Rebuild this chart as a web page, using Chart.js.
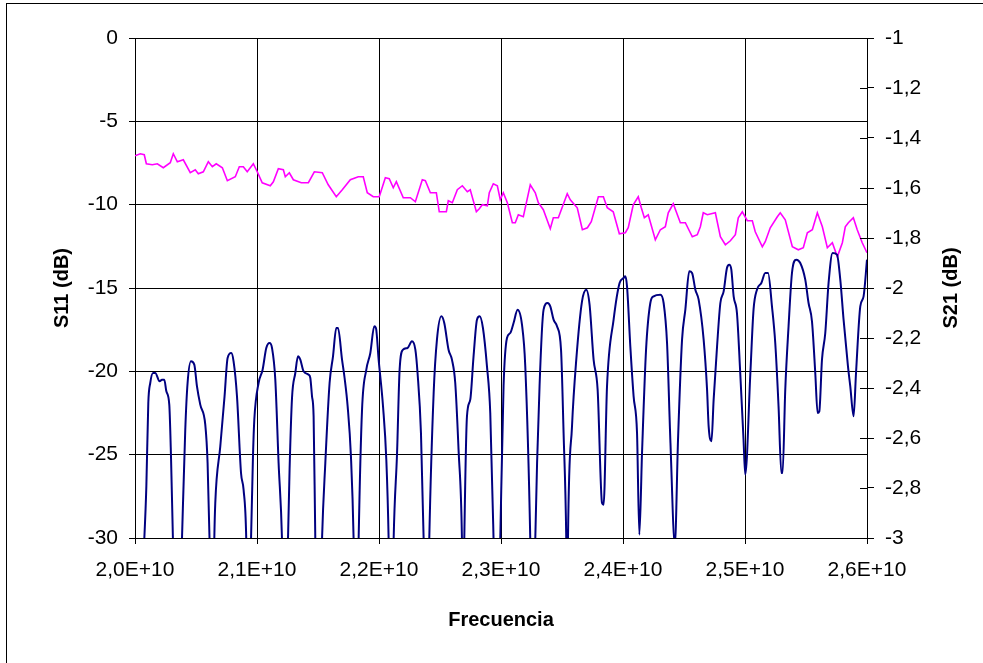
<!DOCTYPE html>
<html>
<head>
<meta charset="utf-8">
<script src="https://cdn.jsdelivr.net/npm/chart.js@4.4.1/dist/chart.umd.min.js"></script>
<style>
  html, body { margin: 0; padding: 0; background: #fff; }
  #wrap { width: 983px; height: 663px; }
</style>
</head>
<body>
<div id="wrap"><canvas id="chart" width="983" height="663"></canvas></div>
<script>
// frequencies in GHz
const s11Freq = [
  20.000, 20.076, 20.093, 20.109, 20.125, 20.148, 20.166, 20.202, 20.221, 20.240, 20.257, 20.281, 20.295, 20.311, 20.347,
  20.385, 20.412, 20.431, 20.459, 20.486, 20.508, 20.535, 20.576, 20.595, 20.611, 20.631,
  20.650, 20.658, 20.699, 20.734, 20.759, 20.789, 20.808, 20.836, 20.869, 20.890, 20.912, 20.931,
  20.951, 20.967, 20.978, 21.013, 21.046, 21.076, 21.103, 21.123, 21.150, 21.177, 21.205, 21.230,
  21.254, 21.267, 21.287, 21.314, 21.336, 21.355, 21.382, 21.423, 21.437, 21.451, 21.464, 21.478, 21.505,
  21.533, 21.560, 21.595, 21.623, 21.650, 21.664, 21.697, 21.718, 21.743, 21.770, 21.792, 21.812,
  21.833, 21.861, 21.896, 21.929, 21.961, 21.975, 21.997, 22.033, 22.060, 22.079, 22.099,
  22.120, 22.148, 22.169, 22.197, 22.234, 22.270, 22.298, 22.316, 22.344, 22.366, 22.389,
  22.412, 22.448, 22.475, 22.511, 22.535, 22.570, 22.598, 22.625, 22.652, 22.680, 22.689,
  22.699, 22.721, 22.748, 22.775, 22.803, 22.825, 22.852, 22.885, 22.912, 22.939, 22.967,
  22.994, 23.021, 23.049, 23.076, 23.103, 23.136, 23.172, 23.199, 23.240, 23.261,
  23.281, 23.316, 23.349, 23.382, 23.404, 23.431, 23.459, 23.492, 23.513, 23.535, 23.543,
  23.549, 23.582, 23.617, 23.664, 23.699, 23.726, 23.759, 23.792, 23.828, 23.841,
  23.869, 23.923, 23.972, 24.005, 24.019, 24.033, 24.060, 24.087, 24.115, 24.134,
  24.156, 24.189, 24.224, 24.251, 24.306, 24.333, 24.361, 24.389, 24.425,
  24.451, 24.484, 24.511, 24.543, 24.566, 24.593, 24.620, 24.661, 24.689, 24.702, 24.725,
  24.743, 24.771, 24.798, 24.825, 24.852, 24.871, 24.888, 24.907, 24.934, 24.961, 24.988, 25.002,
  25.044, 25.070, 25.098, 25.134, 25.166, 25.189, 25.221, 25.248, 25.275, 25.298, 25.308,
  25.330, 25.357, 25.385, 25.420, 25.453, 25.494, 25.521, 25.549, 25.576, 25.595, 25.609,
  25.631, 25.658, 25.685, 25.718, 25.754, 25.781, 25.808, 25.844, 25.863, 25.890,
  25.910, 25.945, 25.972, 26.000
];
// S11 in dB (values below -30 fall off the plot)
const s11Db = [
  -40, -30.1, -26.9, -21.9, -20.7, -20.1, -20.1, -20.6, -20.5, -20.5, -21.2, -22.0, -25.1, -30.1, -40,
  -30.1, -23.5, -20.7, -19.4, -19.6, -20.9, -22.0, -23.2, -25.5, -30.1, -40,
  -30.1, -27.9, -24.5, -21.5, -19.2, -18.9, -19.4, -21.5, -26.1, -27.1, -30.1, -40,
  -30.1, -25.1, -22.9, -20.7, -19.9, -18.6, -18.3, -18.6, -20.5, -25.5, -30.1, -40,
  -30.1, -25.9, -21.6, -20.1, -19.1, -19.3, -20.0, -20.2, -20.4, -21.5, -22.7, -30.1, -40,
  -30.1, -25.5, -20.7, -19.1, -17.4, -17.4, -19.3, -20.4, -22.1, -25.1, -30.1, -40,
  -30.1, -22.3, -19.9, -18.9, -17.3, -17.4, -19.3, -22.1, -25.3, -30.1, -40,
  -30.1, -24.9, -19.9, -18.7, -18.6, -18.2, -18.7, -20.1, -23.7, -30.1, -40,
  -30.1, -21.3, -18.1, -16.7, -17.1, -18.7, -19.3, -20.7, -24.7, -30.1, -36,
  -30.1, -22.7, -21.7, -19.1, -16.9, -16.7, -17.4, -19.7, -22.5, -30.1, -40,
  -30.1, -20.9, -18.0, -17.7, -17.1, -16.3, -17.2, -19.7, -30.1, -40,
  -30.1, -20.9, -16.3, -15.9, -16.1, -16.9, -17.3, -18.7, -23.7, -30.1, -36,
  -30.1, -23.3, -19.3, -15.8, -15.1, -16.0, -19.3, -21.1, -27.9, -28.0,
  -20.9, -16.9, -14.7, -14.4, -14.3, -14.9, -18.5, -21.5, -23.7, -29.8,
  -24.9, -18.7, -15.9, -15.5, -15.4, -15.9, -18.3, -24.3, -30.4,
  -24.1, -18.1, -16.3, -14.0, -14.1, -15.1, -15.7, -18.1, -21.1, -23.3, -24.2,
  -21.7, -18.5, -15.9, -15.2, -13.8, -13.6, -13.9, -15.5, -16.5, -20.1, -24.1, -26.2,
  -20.1, -16.3, -15.1, -14.7, -14.1, -14.1, -16.1, -18.3, -22.1, -26.1, -26.1,
  -21.1, -17.3, -14.1, -13.3, -13.5, -14.5, -15.9, -17.0, -20.1, -22.5, -22.4,
  -19.3, -17.7, -14.7, -12.9, -13.0, -14.5, -16.9, -19.7, -20.9, -22.7,
  -20.1, -16.1, -15.5, -13.3
];

const s21Freq = [
  20.000, 20.043, 20.076, 20.093, 20.142, 20.183, 20.232, 20.289, 20.314, 20.347,
  20.396, 20.453, 20.494, 20.519, 20.560, 20.601, 20.634, 20.666, 20.716, 20.757,
  20.822, 20.855, 20.888, 20.920, 20.970, 21.002, 21.043, 21.109, 21.134, 21.175,
  21.216, 21.232, 21.265, 21.298, 21.363, 21.421, 21.470, 21.535, 21.584, 21.650,
  21.699, 21.765, 21.830, 21.871, 21.904, 21.953, 22.002, 22.052, 22.084, 22.117,
  22.142, 22.199, 22.257, 22.298, 22.355, 22.380, 22.421, 22.470, 22.494, 22.552,
  22.568, 22.601, 22.642, 22.683, 22.724, 22.748, 22.798, 22.822, 22.847, 22.888,
  22.904, 22.937, 22.970, 22.994, 23.019, 23.052, 23.093, 23.117, 23.142, 23.183,
  23.240, 23.281, 23.306, 23.347, 23.404, 23.429, 23.470, 23.543, 23.568, 23.625,
  23.667, 23.708, 23.740, 23.798, 23.839, 23.871, 23.920, 23.970, 24.019, 24.043,
  24.084, 24.125, 24.150, 24.175, 24.207, 24.265, 24.306, 24.347, 24.371, 24.412,
  24.470, 24.511, 24.568, 24.609, 24.634, 24.658, 24.691, 24.757, 24.798, 24.839,
  24.880, 24.921, 24.945, 24.978, 25.019, 25.060, 25.084, 25.142, 25.166, 25.207,
  25.265, 25.289, 25.330, 25.388, 25.437, 25.478, 25.511, 25.552, 25.593, 25.634,
  25.675, 25.716, 25.757, 25.798, 25.822, 25.847, 25.888, 25.920, 25.961, 26.000
];
const s21Db = [
  -1.471, -1.463, -1.467, -1.503, -1.507, -1.503, -1.519, -1.499, -1.463, -1.495,
  -1.487, -1.539, -1.527, -1.543, -1.535, -1.495, -1.515, -1.503, -1.519, -1.571,
  -1.555, -1.515, -1.515, -1.535, -1.503, -1.535, -1.579, -1.591, -1.575, -1.523,
  -1.527, -1.555, -1.539, -1.567, -1.579, -1.579, -1.535, -1.539, -1.587, -1.635,
  -1.607, -1.567, -1.555, -1.555, -1.619, -1.635, -1.635, -1.559, -1.563, -1.599,
  -1.575, -1.639, -1.639, -1.655, -1.567, -1.571, -1.619, -1.619, -1.695, -1.695,
  -1.651, -1.659, -1.607, -1.591, -1.615, -1.607, -1.695, -1.683, -1.667, -1.671,
  -1.619, -1.583, -1.591, -1.647, -1.619, -1.659, -1.739, -1.739, -1.707, -1.715,
  -1.587, -1.619, -1.659, -1.687, -1.763, -1.719, -1.719, -1.623, -1.647, -1.679,
  -1.767, -1.759, -1.735, -1.635, -1.635, -1.679, -1.695, -1.783, -1.779, -1.759,
  -1.667, -1.635, -1.679, -1.719, -1.707, -1.807, -1.767, -1.755, -1.699, -1.663,
  -1.739, -1.739, -1.795, -1.787, -1.755, -1.699, -1.707, -1.699, -1.795, -1.827,
  -1.811, -1.787, -1.719, -1.695, -1.731, -1.731, -1.775, -1.835, -1.815, -1.759,
  -1.715, -1.699, -1.727, -1.835, -1.847, -1.839, -1.779, -1.767, -1.699, -1.755,
  -1.839, -1.819, -1.875, -1.819, -1.755, -1.739, -1.719, -1.767, -1.819, -1.859
];

const xTicks = [20, 21, 22, 23, 24, 25, 26];
const xTickLabels = ["2,0E+10", "2,1E+10", "2,2E+10", "2,3E+10", "2,4E+10", "2,5E+10", "2,6E+10"];
const leftTicks = [0, -5, -10, -15, -20, -25, -30];
const rightTicks = [-1, -1.2, -1.4, -1.6, -1.8, -2, -2.2, -2.4, -2.6, -2.8, -3];
const rightTickLabels = ["-1", "-1,2", "-1,4", "-1,6", "-1,8", "-2", "-2,2", "-2,4", "-2,6", "-2,8", "-3"];

const FONT = "'Liberation Sans', Arial, sans-serif";
Chart.defaults.font.family = FONT;
Chart.defaults.font.size = 21;
Chart.defaults.color = "#000";

// white page + outer frame of the chart object
const frame = {
  id: "frame",
  beforeDraw(chart) {
    const ctx = chart.ctx;
    ctx.save();
    ctx.fillStyle = "#fff";
    ctx.fillRect(0, 0, chart.width, chart.height);
    ctx.strokeStyle = "#000";
    ctx.lineWidth = 1;
    ctx.strokeRect(6.5, 3.5, chart.width + 20, chart.height + 20);
    ctx.restore();
  }
};

// secondary axis: tick marks cross the axis line, title reads bottom-to-top
const rightAxisExtras = {
  id: "rightAxisExtras",
  afterDraw(chart) {
    const ctx = chart.ctx;
    const s = chart.scales.y2;
    ctx.save();
    ctx.strokeStyle = "#000";
    ctx.lineWidth = 1;
    s.ticks.forEach((t) => {
      const py = Math.round(s.getPixelForValue(t.value)) + 0.5;
      ctx.beginPath();
      ctx.moveTo(s.left - 7, py);
      ctx.lineTo(s.left, py);
      ctx.stroke();
    });
    ctx.translate(s.right - 32, (s.top + s.bottom) / 2);
    ctx.rotate(-Math.PI / 2);
    ctx.font = "bold 20px " + FONT;
    ctx.fillStyle = "#000";
    ctx.textAlign = "center";
    ctx.textBaseline = "middle";
    ctx.fillText("S21 (dB)", 0, 0);
    ctx.restore();
  }
};

new Chart(document.getElementById("chart"), {
  type: "line",
  data: {
    datasets: [
      {
        label: "S11",
        data: s11Freq.map((f, i) => ({ x: f, y: s11Db[i] })),
        yAxisID: "y",
        borderColor: "#000080",
        borderWidth: 2,
        pointRadius: 0,
        cubicInterpolationMode: "monotone",
        clip: 0
      },
      {
        label: "S21",
        data: s21Freq.map((f, i) => ({ x: f, y: s21Db[i] })),
        yAxisID: "y2",
        borderColor: "#FF00FF",
        borderWidth: 1.6,
        pointRadius: 0,
        tension: 0,
        clip: 0
      }
    ]
  },
  options: {
    responsive: false,
    animation: false,
    devicePixelRatio: 1,
    layout: { padding: { top: 38, left: 0, right: 0, bottom: 0 } },
    plugins: {
      legend: { display: false },
      tooltip: { enabled: false }
    },
    scales: {
      x: {
        type: "linear",
        position: "bottom",
        min: 20,
        max: 26,
        afterBuildTicks: (s) => { s.ticks = xTicks.map((v) => ({ value: v })); },
        afterFit: (s) => { s.height = 125; },
        ticks: {
          autoSkip: false,
          maxRotation: 0,
          padding: 14,
          callback: (v) => xTickLabels[xTicks.indexOf(v)]
        },
        grid: { color: "#000", lineWidth: 1, tickLength: 6 },
        border: { color: "#000", width: 1 },
        title: {
          display: true,
          text: "Frecuencia",
          font: { size: 20, weight: "bold" },
          padding: { top: 0, bottom: 31 }
        }
      },
      y: {
        position: "left",
        min: -30,
        max: 0,
        afterBuildTicks: (s) => { s.ticks = leftTicks.map((v) => ({ value: v })); },
        afterFit: (s) => { s.width = 135; },
        ticks: { padding: 11, callback: (v) => String(v) },
        grid: { color: "#000", lineWidth: 1, tickLength: 6 },
        border: { color: "#000", width: 1 },
        title: {
          display: true,
          text: "S11 (dB)",
          font: { size: 20, weight: "bold" },
          padding: { top: 50, bottom: 0 }
        }
      },
      y2: {
        position: "right",
        min: -3,
        max: -1,
        afterBuildTicks: (s) => { s.ticks = rightTicks.map((v) => ({ value: v })); },
        afterFit: (s) => { s.width = 116; },
        ticks: {
          padding: 11,
          callback: (v) => rightTickLabels[rightTicks.indexOf(v)]
        },
        grid: { drawOnChartArea: false, color: "#000", lineWidth: 1, tickLength: 7 },
        border: { color: "#000", width: 1 }
      }
    }
  },
  plugins: [frame, rightAxisExtras]
});
</script>
</body>
</html>
